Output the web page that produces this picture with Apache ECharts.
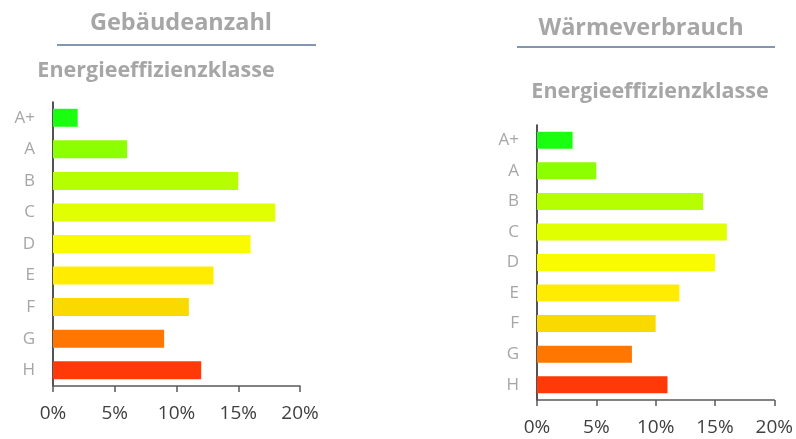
<!DOCTYPE html>
<html>
<head>
<meta charset="utf-8">
<script src="https://cdn.jsdelivr.net/npm/echarts@6/dist/echarts.min.js"></script>
<style>
  html, body { margin: 0; padding: 0; background: #fff; }
  #main { width: 796px; height: 439px; }
</style>
</head>
<body>
<div id="main"></div>
<script>
// Energieeffizienzklassen, von oben nach unten
var klassen = ['A+', 'A', 'B', 'C', 'D', 'E', 'F', 'G', 'H'];
var farben = ['#1aff10', '#8cff00', '#b6ff00', '#e0ff00', '#fbfb00', '#ffec00', '#fad900', '#ff7700', '#ff3a08'];
// Anteile in %
var gebaeudeanzahl = [2, 6, 15, 18, 16, 13, 11, 9, 12];
var waermeverbrauch = [3, 5, 14, 16, 15, 12, 10, 8, 11];
var xTicks = [0, 5, 10, 15, 20];

var FONT = '"Open Sans", sans-serif';

function colored(werte) {
  return werte.map(function (v, i) {
    return { value: v, itemStyle: { color: farben[i] } };
  });
}

function xAchse(idx) {
  return {
    type: 'value', gridIndex: idx,
    min: xTicks[0], max: xTicks[xTicks.length - 1], interval: xTicks[1] - xTicks[0],
    axisLine: { show: true, lineStyle: { color: '#595959', width: 1.5 } },
    axisTick: { show: true, length: 6, lineStyle: { color: '#595959', width: 1.5 } },
    splitLine: { show: false },
    axisLabel: { formatter: '{value}%', color: '#404040', fontSize: 19, fontFamily: FONT, margin: 18 }
  };
}

function yAchse(idx) {
  return {
    type: 'category', gridIndex: idx, data: klassen, inverse: true,
    axisLine: { show: true, lineStyle: { color: '#1a1a1a', width: 1.5 } },
    axisTick: { show: false },
    axisLabel: { color: '#a6a6a6', fontSize: 17, fontFamily: FONT, margin: 18 }
  };
}

var titelStil = { fill: '#a6a6a6', fontWeight: 'bold', fontFamily: FONT, textAlign: 'center', textVerticalAlign: 'middle' };

var chart = echarts.init(document.getElementById('main'), null, { renderer: 'canvas' });
chart.setOption({
  animation: false,
  backgroundColor: '#fff',
  grid: [
    { left: 53, top: 102, width: 247, height: 284 },
    { left: 537, top: 125, width: 239, height: 275 }
  ],
  xAxis: [xAchse(0), xAchse(1)],
  yAxis: [yAchse(0), yAchse(1)],
  graphic: [
    { type: 'text', x: 181, y: 23, style: Object.assign({ text: 'Gebäudeanzahl', fontSize: 23.5 }, titelStil) },
    { type: 'line', shape: { x1: 57, y1: 45, x2: 316, y2: 45 }, style: { stroke: '#8497b0', lineWidth: 2 } },
    { type: 'text', x: 156, y: 71, style: Object.assign({ text: 'Energieeffizienzklasse', fontSize: 21.5 }, titelStil) },
    { type: 'text', x: 641, y: 28, style: Object.assign({ text: 'Wärmeverbrauch', fontSize: 23.5 }, titelStil) },
    { type: 'line', shape: { x1: 517, y1: 47, x2: 775, y2: 47 }, style: { stroke: '#8497b0', lineWidth: 2 } },
    { type: 'text', x: 650, y: 92, style: Object.assign({ text: 'Energieeffizienzklasse', fontSize: 21.5 }, titelStil) }
  ],
  series: [
    { type: 'bar', xAxisIndex: 0, yAxisIndex: 0, barWidth: 18, data: colored(gebaeudeanzahl) },
    { type: 'bar', xAxisIndex: 1, yAxisIndex: 1, barWidth: 17, data: colored(waermeverbrauch) }
  ]
});
</script>
</body>
</html>
